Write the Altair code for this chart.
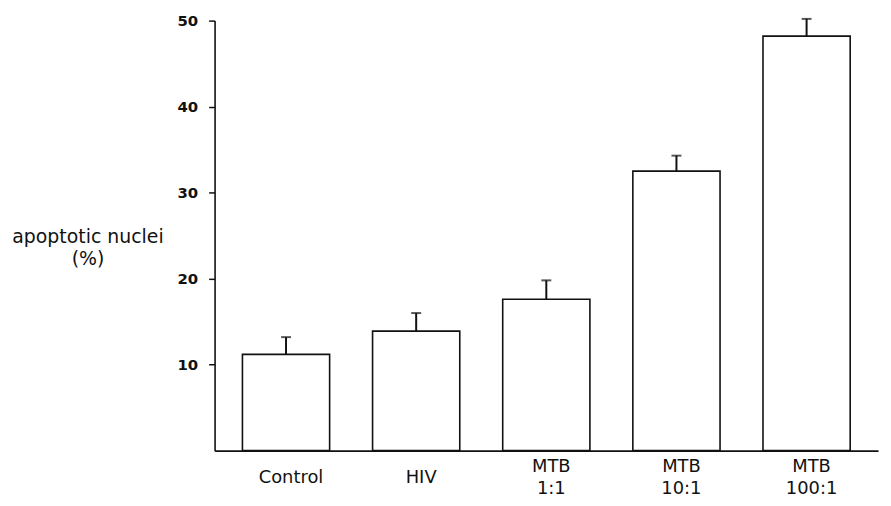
import altair as alt
import pandas as pd

categories = ["Control", "HIV", "MTB\n1:1", "MTB\n10:1", "MTB\n100:1"]
values = [11.2, 13.9, 17.6, 32.5, 48.2]
upper = [13.2, 16.0, 19.8, 34.3, 50.2]
y_ticks = [10, 20, 30, 40, 50]

df = pd.DataFrame({"cat": categories, "value": values, "upper": upper})

W, H = 668, 433
xscale = alt.Scale(domain=categories, paddingInner=0.33, paddingOuter=0.214)
yscale = alt.Scale(domain=[0, 50], nice=False, zero=True)

base = alt.Chart(df)

xenc = alt.X(
    "cat:N", scale=xscale, sort=categories,
    axis=alt.Axis(title=None, labels=False, ticks=False, domain=True,
                  domainColor="#111", domainWidth=1.6, grid=False),
)

bars = base.mark_bar(fill="white", stroke="#111", strokeWidth=1.6).encode(
    x=xenc,
    y=alt.Y(
        "value:Q", scale=yscale,
        axis=alt.Axis(
            values=y_ticks, title=["apoptotic nuclei", "(%)"], titleAngle=0,
            titleX=-128, titleY=223, titleAlign="center", titleBaseline="alphabetic",
            titleFont="DejaVu Sans", titleFontSize=19, titleFontWeight="normal",
            titleLineHeight=23, titleColor="#111",
            labelFont="DejaVu Sans", labelFontSize=15, labelFontWeight="bold",
            labelColor="#111", tickSize=6, tickWidth=1.5, tickColor="#111",
            labelPadding=11, domainColor="#111", domainWidth=1.6, grid=False,
        ),
    ),
)

err = base.mark_rule(color="#111", strokeWidth=2).encode(
    x=alt.X("cat:N", scale=xscale, sort=categories),
    y=alt.Y("value:Q", scale=yscale),
    y2="upper:Q",
)

caps = base.mark_tick(color="#111", thickness=2, size=10).encode(
    x=alt.X("cat:N", scale=xscale, sort=categories),
    y=alt.Y("upper:Q", scale=yscale),
)

labels = base.transform_calculate(
    nlines="length(split(datum.cat, '\\n'))",
).transform_calculate(
    ypos=f"{H + 28} - (datum.nlines - 1) * 12",
).mark_text(
    font="DejaVu Sans", fontSize=18, lineBreak="\n", baseline="middle",
    align="center", color="#111", dx=5, lineHeight=23,
).encode(
    x=alt.X("cat:N", scale=xscale, sort=categories),
    y=alt.Y("ypos:Q", scale=None),
    text="cat:N",
)

chart = alt.layer(bars, err, caps, labels).properties(
    width=W, height=H,
    padding={"left": 208, "top": 11, "right": 5, "bottom": 52},
    autosize=alt.AutoSizeParams(type="none"),
    background="white",
).configure_view(stroke=None)

chart.save("out.html", embed_options={"renderer": "svg", "actions": False})
